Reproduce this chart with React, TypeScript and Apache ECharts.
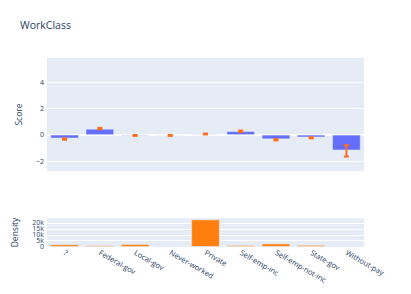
import React, { useEffect, useRef } from "react";
import * as echarts from "echarts";

const categories = ["?", "Federal-gov", "Local-gov", "Never-worked", "Private", "Self-emp-inc", "Self-emp-not-inc", "State-gov", "Without-pay"];
const scores = [-0.26, 0.45, -0.04, -0.04, 0.03, 0.27, -0.32, -0.18, -1.17];
const errLow = [-0.37, 0.42, -0.08, -0.08, 0.03, 0.22, -0.42, -0.27, -1.65];
const errHigh = [-0.26, 0.53, -0.01, -0.01, 0.1, 0.33, -0.31, -0.17, -0.78];
const density = [1836, 960, 2093, 7, 22696, 1116, 2541, 1298, 14];
const scoreTicks = [-2, 0, 2, 4];
const densityTicks = [0, 5000, 10000, 15000, 20000];
const densityTickLabels = ["0", "5k", "10k", "15k", "20k"];

const FONT = "'Open Sans', sans-serif";
const TXT = "#2a3f5f";
const BG = "#E5ECF6";

export default function App() {
  const ref = useRef<HTMLDivElement>(null);
  useEffect(() => {
    document.body.style.margin = "0";
    const chart = echarts.init(ref.current!, null, { renderer: "svg" });
    const fmtScore = (v: number) => (scoreTicks.includes(v) ? (v < 0 ? "\u2212" + Math.abs(v) : String(v)) : "");
    chart.setOption({
      animation: false,
      backgroundColor: "#fff",
      title: {
        text: "WorkClass",
        left: 15,
        top: 14,
        textStyle: { fontFamily: FONT, fontSize: 10.5, fontWeight: "normal", color: TXT },
      },
      grid: [
        { left: 47, right: 47, top: 58, height: 113, backgroundColor: BG, show: true, borderWidth: 0 },
        { left: 47, right: 47, top: 218.3, height: 28.4, backgroundColor: BG, show: true, borderWidth: 0 },
      ],
      xAxis: [
        {
          type: "category",
          gridIndex: 0,
          data: categories,
          axisLine: { show: true, onZero: true, lineStyle: { color: "#fff", width: 2 } },
          axisTick: { show: false },
          axisLabel: { show: false },
          splitLine: { show: false },
        },
        {
          type: "category",
          gridIndex: 1,
          data: categories,
          axisLine: { show: false },
          axisTick: { show: false },
          axisLabel: { rotate: -30, fontSize: 7.5, color: TXT, fontFamily: FONT, margin: 5, interval: 0, hideOverlap: false },
          splitLine: { show: false },
        },
      ],
      yAxis: [
        {
          type: "value",
          gridIndex: 0,
          min: -2.75,
          max: 5.85,
          name: "Score",
          nameLocation: "middle",
          nameGap: 24,
          nameTextStyle: { fontFamily: FONT, fontSize: 8.5, color: TXT },
          axisLine: { show: false },
          axisTick: { show: false },
          axisLabel: { fontSize: 7, color: TXT, fontFamily: FONT, margin: 3, formatter: fmtScore, showMinLabel: false, showMaxLabel: false, hideOverlap: false },
          splitLine: { show: true, showMinLine: false, showMaxLine: false, lineStyle: { color: "#fff", width: 1 } },
        },
        {
          type: "value",
          gridIndex: 1,
          min: 0,
          max: 23830,
          interval: 5000,
          name: "Density",
          nameLocation: "middle",
          nameGap: 28,
          nameTextStyle: { fontFamily: FONT, fontSize: 8.5, color: TXT },
          axisLine: { show: false },
          axisTick: { show: false },
          axisLabel: { show: false },
          splitLine: { show: true, showMinLine: false, showMaxLine: false, lineStyle: { color: "#fff", width: 1 } },
        },
      ],
      series: [
        {
          type: "bar",
          xAxisIndex: 0,
          yAxisIndex: 0,
          data: scores,
          barCategoryGap: "20%",
          itemStyle: { color: "#636efa", borderColor: BG, borderWidth: 0.5 },
        },
        {
          type: "custom",
          xAxisIndex: 0,
          yAxisIndex: 0,
          data: categories.map((_, i) => [i, errLow[i], errHigh[i]]),
          encode: { x: 0, y: [1, 2] },
          z: 5,
          renderItem: (params: any, api: any) => {
            const i = api.value(0);
            const lo = api.coord([i, api.value(1)]);
            const hi = api.coord([i, api.value(2)]);
            const x = lo[0];
            const hw = 2.5;
            const style = { stroke: "#ff6d1f", lineWidth: 2, fill: "none" };
            return {
              type: "group",
              children: [
                { type: "line", shape: { x1: x, y1: lo[1], x2: x, y2: hi[1] }, style },
                { type: "line", shape: { x1: x - hw, y1: lo[1], x2: x + hw, y2: lo[1] }, style },
                { type: "line", shape: { x1: x - hw, y1: hi[1], x2: x + hw, y2: hi[1] }, style },
              ],
            };
          },
        },
        {
          type: "bar",
          xAxisIndex: 1,
          yAxisIndex: 1,
          data: density,
          barCategoryGap: "20%",
          itemStyle: { color: "#ff7f0e", borderColor: BG, borderWidth: 0.5 },
        },
      ],
    });
    const labels = densityTicks.map((v, k) => {
      const y = chart.convertToPixel({ yAxisIndex: 1 }, v) as number;
      return {
        type: "text",
        x: 44,
        y,
        style: {
          text: densityTickLabels[k],
          fontFamily: FONT,
          fontSize: 7,
          fill: TXT,
          align: "right",
          verticalAlign: "middle",
        },
      };
    });
    chart.setOption({ graphic: labels });
    return () => chart.dispose();
  }, []);
  return <div ref={ref} style={{ width: 411, height: 294 }} />;
}
